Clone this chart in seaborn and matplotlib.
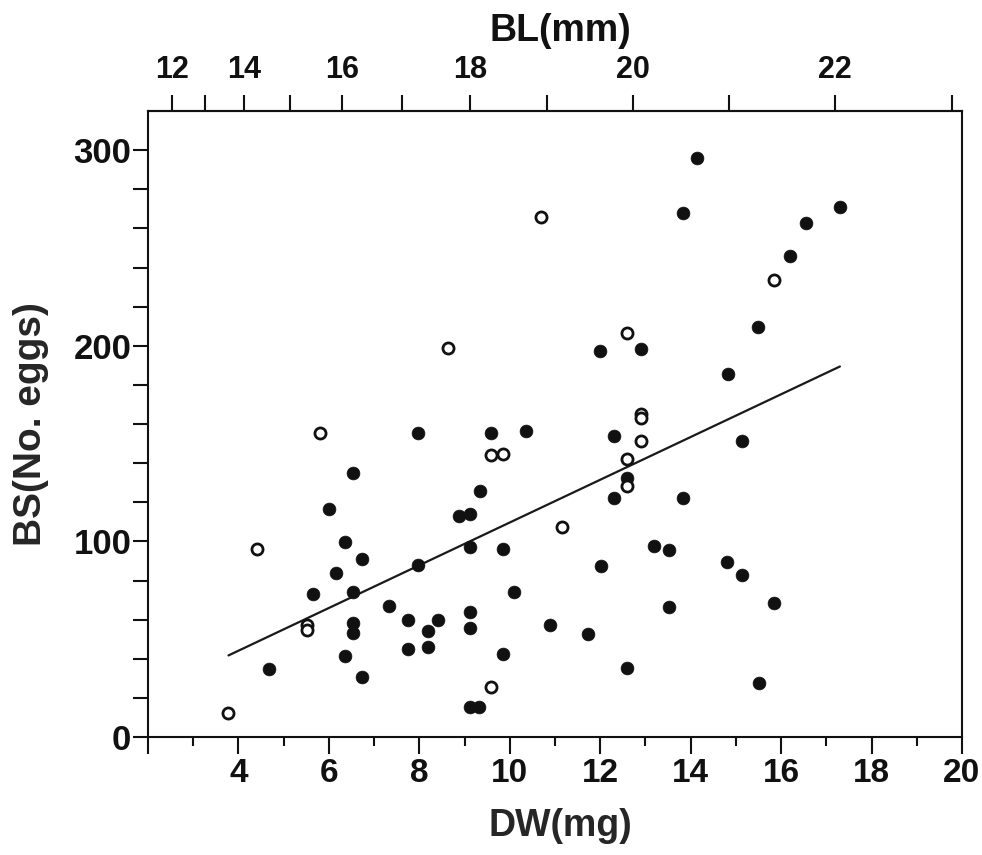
import numpy as np
import pandas as pd
import matplotlib
matplotlib.use("Agg")
import matplotlib.pyplot as plt
import seaborn as sns

# ---------------- data ----------------
filled_dw = [14.15, 13.82, 17.30, 16.56, 16.20, 15.50, 12.00, 12.90, 14.82, 15.14,
             7.97, 9.59, 10.36, 12.30, 6.53, 12.60, 9.34, 12.30, 13.84, 6.00,
             8.87, 9.11, 6.35, 9.11, 9.85, 13.20, 13.52, 6.74, 14.80, 15.14,
             12.01, 7.97, 6.16, 5.64, 6.53, 10.10, 7.34, 13.52, 15.85, 9.11,
             7.75, 8.41, 6.53, 6.53, 9.11, 8.19, 10.90, 11.72, 7.75, 8.19,
             6.35, 9.85, 4.67, 12.60, 6.74, 15.51, 9.11, 9.33]
filled_bs = [296, 268, 271, 263, 246, 209.5, 197.3, 198.3, 185.4, 151.2,
             155.6, 155.6, 156.6, 153.9, 134.7, 132.5, 126.0, 122.3, 122.3, 116.7,
             112.8, 113.8, 99.8, 96.9, 96.1, 97.4, 95.6, 91.0, 89.4, 82.7,
             87.4, 88.0, 83.9, 73.3, 74.0, 74.3, 67.2, 66.5, 68.5, 64.1,
             60.0, 60.0, 58.3, 53.2, 55.9, 54.2, 57.5, 52.4, 45.1, 46.1,
             41.2, 42.3, 35.0, 35.4, 30.9, 27.6, 15.1, 15.1]

open_dw = [10.69, 15.84, 12.59, 8.63, 12.90, 12.90, 12.90, 5.81, 9.59, 9.85,
           12.59, 12.60, 11.16, 4.41, 5.51, 5.51, 9.59, 3.78]
open_bs = [265.8, 233.5, 206.3, 199.0, 165.0, 163.0, 151.2, 155.4, 144.0, 144.7,
           142.0, 128.4, 107.1, 95.9, 57.5, 54.9, 25.4, 12.1]

line_dw = [3.78, 17.30]
line_bs = [41.7, 189.4]

dw_ticks = [2, 4, 6, 8, 10, 12, 14, 16, 18, 20]
dw_labels = ["", "4", "6", "8", "10", "12", "14", "16", "18", "20"]
bs_ticks = [0, 100, 200, 300]
bl_major = [12, 14, 16, 18, 20, 22]
bl_minor = [13, 15, 17, 19, 21, 23]

# ---------------- style ----------------
sns.set_style("ticks")
plt.rcParams["font.family"] = ["Liberation Sans", "DejaVu Sans"]
plt.rcParams["font.weight"] = "bold"
plt.rcParams["axes.labelweight"] = "bold"

fig = plt.figure(figsize=(9.82, 8.55), dpi=100)
ax = fig.add_axes([148/982, 1-737/855, (962-148)/982, (737-111)/855])

df_f = pd.DataFrame({"DW": filled_dw, "BS": filled_bs})
df_o = pd.DataFrame({"DW": open_dw, "BS": open_bs})
df_l = pd.DataFrame({"DW": line_dw, "BS": line_bs})

sns.lineplot(data=df_l, x="DW", y="BS", ax=ax, color="#1a1a1a", linewidth=1.6)
sns.scatterplot(data=df_f, x="DW", y="BS", ax=ax, color="#111111", s=85,
                edgecolor="#111111", linewidth=0.5, zorder=3)
sns.scatterplot(data=df_o, x="DW", y="BS", ax=ax, facecolor="white", s=64,
                edgecolor="#111111", linewidth=2.0, zorder=4)

ax.set_xlim(2, 20)
ax.set_ylim(0, 320)
ax.set_xticks(dw_ticks)
ax.set_xticklabels(dw_labels)
ax.set_xticks(np.arange(3, 20, 2), minor=True)
ax.set_yticks(bs_ticks)
ax.set_yticks([v for v in range(20, 320, 20) if v % 100 != 0], minor=True)

for sp in ax.spines.values():
    sp.set_linewidth(1.5)
    sp.set_color("#111111")

ax.tick_params(axis="x", which="major", direction="out", length=12, width=1.5,
               labelsize=24, pad=3, top=False, bottom=True, colors="#111111")
ax.tick_params(axis="x", which="minor", direction="out", length=6.5, width=1.5,
               top=False, bottom=True, colors="#111111")
ax.tick_params(axis="y", which="both", direction="out", length=11, width=1.5,
               labelsize=25, pad=1, left=True, right=False, colors="#111111")
for lab in ax.get_xticklabels() + ax.get_yticklabels():
    lab.set_fontweight("bold")

ax.set_xlabel("DW(mg)", fontsize=27, fontweight="bold")
ax.xaxis.set_label_coords(0.507, -0.113)
ax.set_ylabel("BS(No. eggs)", fontsize=28, fontweight="bold")
ax.yaxis.set_label_coords(-0.122, 0.5)

# top axis: body length (mm), DW = 0.001 * BL^3.155
def dw_to_bl(dw):
    dw = np.clip(np.asarray(dw, dtype=float), 1e-6, None)
    return (dw / 0.001) ** (1 / 3.155)

def bl_to_dw(bl):
    bl = np.clip(np.asarray(bl, dtype=float), 1e-6, None)
    return 0.001 * bl ** 3.155

secax = ax.secondary_xaxis("top", functions=(dw_to_bl, bl_to_dw))
secax.set_xticks(bl_major)
secax.set_xticklabels([str(v) for v in bl_major])
secax.set_xticks(bl_minor, minor=True)
secax.tick_params(axis="x", which="both", direction="out", length=11.5, width=1.5,
                  labelsize=22, pad=7, colors="#111111")
secax.spines["top"].set_linewidth(1.5)
for lab in secax.get_xticklabels():
    lab.set_fontweight("bold")
ax.text(0.506, 1.128, "BL(mm)", transform=ax.transAxes, ha="center", va="center",
        fontsize=27, fontweight="bold", color="#111111")

fig.savefig("out.png", dpi=100, facecolor="white")
